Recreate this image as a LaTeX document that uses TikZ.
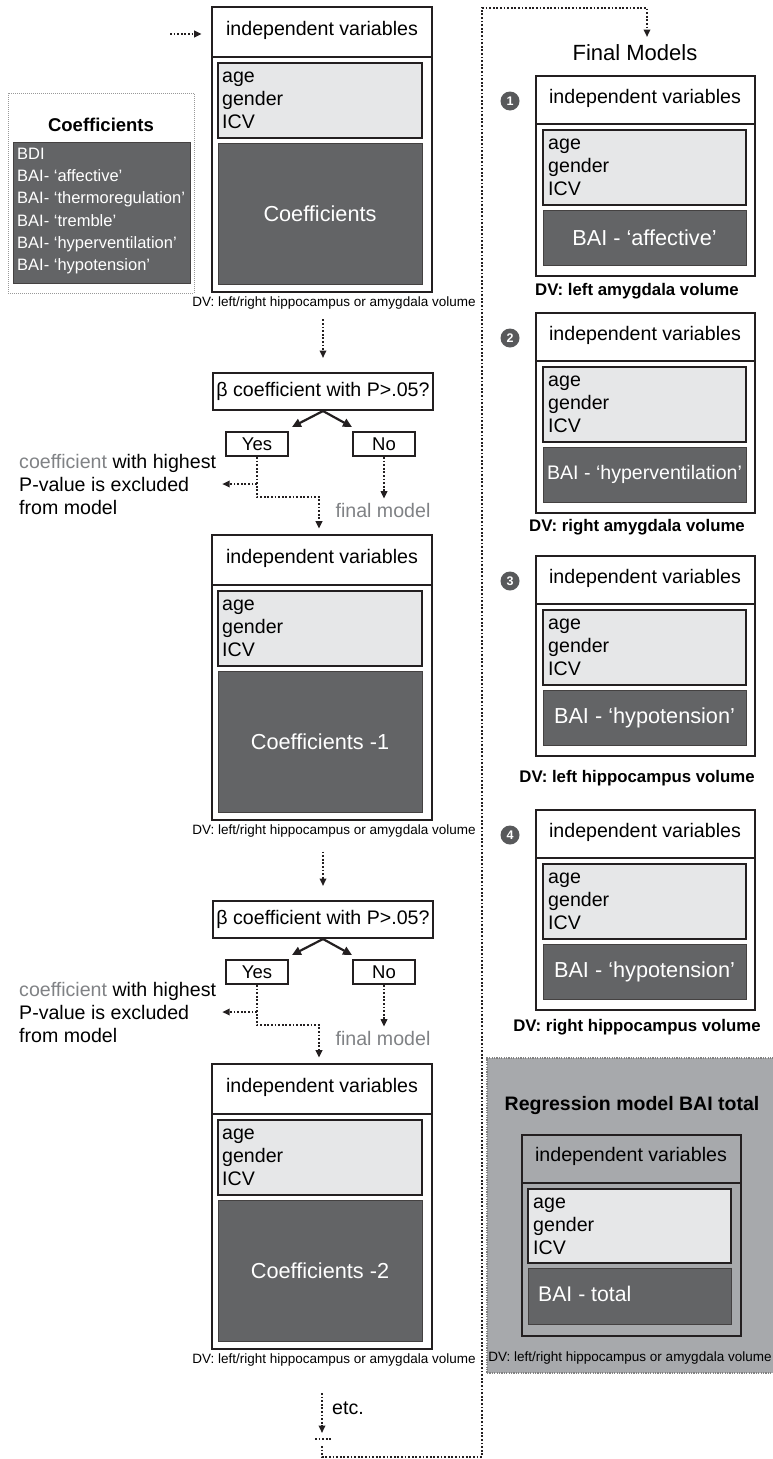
\documentclass[tikz,border=0pt]{standalone}
\usepackage{fontspec}
\setmainfont{Liberation Sans}
\usetikzlibrary{arrows.meta}
\definecolor{dk}{HTML}{636466}
\definecolor{lt}{HTML}{E6E7E8}
\definecolor{pnl}{HTML}{A7A9AC}
\definecolor{gtx}{HTML}{808285}
\definecolor{ln}{HTML}{231F20}
\definecolor{circ}{HTML}{58595B}
\newcommand\fs[2]{\fontsize{#1}{#2}\selectfont}
% style, name, x1, y1, x2, y2, text
\newcommand\rbox[7]{\node[#1,minimum width={((#5)-(#3))*1pt},minimum height={((#6)-(#4))*1pt}] (#2) at ({((#3)+(#5))/2},{((#4)+(#6))/2}) {#7};}
% id, T, dark text
\newcommand\mainbox[3]{%
 \rbox{outerb}{b#1}{212}{#2}{432}{#2+285}{}
 \rbox{outerb}{b#1h}{212}{#2}{432}{#2+50}{}
 \node[hdr] (b#1ht) at (322,{#2+23}) {independent variables};
 \rbox{ltb}{b#1l}{218}{#2+56}{422}{#2+131}{}
 \node[vars] (b#1v) at (222,{#2+93}) {age\\gender\\ICV};
 \rbox{dkb}{b#1d}{218}{#2+136}{422}{#2+277}{#3}
 \node[dv] (b#1dv) at (334,{#2+296}) {DV: left/right hippocampus or amygdala volume};
}
% id, D, next box id
\newcommand\decision[3]{%
 \rbox{smallb,font=\fs{19.6}{23}}{q#1}{213}{#2}{433}{#2+37}{β coefficient with P>.05?}
 \rbox{smallb}{y#1}{226}{#2+59}{288}{#2+83}{Yes}
 \rbox{smallb}{n#1}{353}{#2+59}{415}{#2+83}{No}
 \draw[solidar] (q#1.south) -- ([shift={(3pt,4pt)}]y#1.north east);
 \draw[solidar] (q#1.south) -- ([shift={(0pt,4pt)}]n#1.north west);
 \coordinate (yc#1) at (319,{#2+124});
 \draw[dots,tip,shorten >=5pt] (y#1.south) |- (yc#1) -- (yc#1 |- b#3h.north);
 \node[exc] (x#1) at (19,{#2+111}) {{\color{gtx}coefficient} with highest\\P-value is excluded\\from model};
 \draw[dots,tip] (y#1.south |- x#1.east) -- ([xshift=6pt]x#1.east);
 \node[font=\fs{19.6}{23},text=gtx,inner sep=0pt] (f#1) at (383,{#2+137}) {final model};
 \draw[dots,tip] (n#1.south) -- ([yshift=4pt]n#1.south |- f#1.north);
}
% id, T, dark text, dv text, dv y
\newcommand\model[5]{%
 \rbox{modb}{m#1}{536}{#2}{755}{#2+200}{}
 \rbox{modb}{m#1h}{536}{#2}{755}{#2+48}{}
 \node[hdr] (m#1ht) at (645,{#2+22}) {independent variables};
 \rbox{ltb}{m#1l}{543}{#2+54}{746}{#2+129}{}
 \node[vars] (m#1v) at (548,{#2+91}) {age\\gender\\ICV};
 \rbox{dkb}{m#1d}{543}{#2+134}{746}{#2+189}{#3}
 \node[num] (c#1) at (510,{#2+25}) {#1};
 \node[dvb] (m#1dv) at (637,#5) {#4};
}
\begin{document}
\begin{tikzpicture}[x=1pt,y=-1pt,
 outerb/.style={draw=ln,line width=2.7pt,fill=white,inner sep=0pt},
 modb/.style={draw=ln,line width=2pt,fill=white,inner sep=0pt},
 ltb/.style={draw=ln,line width=2pt,fill=lt,inner sep=0pt},
 dkb/.style={draw=ln!85,line width=0.9pt,fill=dk,inner sep=0pt,text=white,font=\fs{21.7}{26}},
 smallb/.style={draw=ln,line width=2pt,fill=white,inner sep=0pt,font=\fs{18.5}{22}},
 hdr/.style={font=\fs{19.6}{23},inner sep=0pt},
 vars/.style={font=\fs{19.6}{23},align=left,anchor=west,inner sep=0pt},
 exc/.style={font=\fs{19.6}{23},align=left,anchor=west,inner sep=0pt},
 dv/.style={font=\fs{13.5}{16},inner sep=0pt},
 dvb/.style={font=\bfseries\fs{16.8}{20},inner sep=0pt},
 dots/.style={draw=ln,line width=2.3pt,dash pattern=on 1.8pt off 1.8pt},
 tip/.style={-{Triangle[length=7.5pt,width=6.5pt]}},
 solidar/.style={draw=ln,line width=2.2pt,-{Triangle[length=9pt,width=8.5pt]}},
 num/.style={circle,fill=circ,minimum size=19pt,inner sep=0pt,text=white,font=\bfseries\fs{12.5}{12.5}},
]
\useasboundingbox (0,0) rectangle (772,1459);

% gray panel
\rbox{fill=pnl,draw=black!50,line width=1.3pt,dash pattern=on 1.2pt off 1.2pt}{panel}{487}{1058}{774}{1373}{}

% legend
\rbox{draw=black!40,line width=0.9pt,dash pattern=on 1pt off 1pt}{leg}{8}{93}{194}{293}{}
\node[font=\bfseries\fs{18.5}{22},inner sep=0pt] (legt) at (101,125) {Coefficients};
\rbox{dkb}{legd}{13}{142}{190}{283}{}
\node[font=\fs{16.5}{22.2},text=white,align=left,anchor=west,inner sep=0pt] (legv) at (17,211)
 {BDI\\BAI- ‘affective’\\BAI- ‘thermoregulation’\\BAI- ‘tremble’\\BAI- ‘hyperventilation’\\BAI- ‘hypotension’};

% main column
\mainbox{1}{7}{Coefficients}
\mainbox{2}{535}{Coefficients -1}
\mainbox{3}{1064}{Coefficients -2}

\coordinate (in0) at (170,34);
\draw[dots,tip] (in0) -- ([xshift=-9pt]in0 -| b1h.west);

\decision{1}{373}{2}
\decision{2}{901}{3}

\draw[dots,tip] (q1.north |- b1dv.south) ++(0,10) -- ([yshift=14pt]q1.north);
\draw[dots,tip] (q2.north |- b2dv.south) ++(0,14) -- ([yshift=14pt]q2.north);

% etc. and loop
\coordinate (etc0) at (322,1393);
\coordinate (etc1) at (322,1433);
\draw[dots,tip] (etc0) -- (etc1);
\node[font=\fs{19.6}{23},anchor=west,inner sep=0pt] (etc) at (332,1408) {etc.};
\coordinate (h0) at (315,1439);
\coordinate (h1) at (332,1439);
\draw[dots] (h0) -- (h1);
\coordinate (L0) at (322,1446);
\coordinate (L1) at (482,1457);
\coordinate (L2) at (647,8);
\coordinate (L3) at (647,37);
\draw[dots,tip] (L0) |- (L1) |- (L2) -- (L3);

% final models
\node[font=\fs{22}{26},inner sep=0pt] (fmt) at (635,53) {Final Models};
\model{1}{76}{BAI - ‘affective’}{DV: left amygdala volume}{291}
\model{2}{313}{\fs{19.6}{23}BAI - ‘hyperventilation’}{DV: right amygdala volume}{527}
\model{3}{556}{BAI - ‘hypotension’}{DV: left hippocampus volume}{778}
\model{4}{810}{BAI - ‘hypotension’}{DV: right hippocampus volume}{1027}

% regression model BAI total
\node[font=\bfseries\fs{19.5}{23},inner sep=0pt] (rgt) at (632,1105) {Regression model BAI total};
\rbox{modb,fill=pnl}{r}{522}{1135}{741}{1336}{}
\rbox{modb,fill=pnl}{rh}{522}{1135}{741}{1183}{}
\node[hdr] (rht) at (631,1156) {independent variables};
\rbox{ltb}{rl}{528}{1189}{731}{1263}{}
\node[vars] (rv) at (533,1226) {age\\gender\\ICV};
\rbox{dkb}{rd}{528}{1268}{731}{1324}{}
\node[font=\fs{21.2}{26},text=white,anchor=west,inner sep=0pt] (rdt) at (538,1294) {BAI - total};
\node[dv] (rdv) at (630,1358) {DV: left/right hippocampus or amygdala volume};
\end{tikzpicture}
\end{document}
